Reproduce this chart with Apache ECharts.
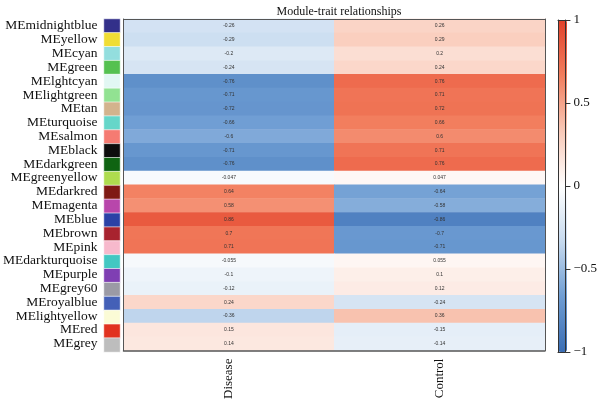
<!DOCTYPE html>
<html><head><meta charset="utf-8">
<script src="https://cdn.jsdelivr.net/npm/echarts@6/dist/echarts.min.js"></script>
<style>html,body{margin:0;padding:0;background:#fff}#c{width:600px;height:402px}</style>
</head><body><div id="c"></div>
<script>
const modules = ['MEmidnightblue','MEyellow','MEcyan','MEgreen','MElghtcyan','MElightgreen','MEtan','MEturquoise','MEsalmon','MEblack','MEdarkgreen','MEgreenyellow','MEdarkred','MEmagenta','MEblue','MEbrown','MEpink','MEdarkturquoise','MEpurple','MEgrey60','MEroyalblue','MElightyellow','MEred','MEgrey'];
const moduleColors = ['#33308a','#f0dd35','#93dede','#55c150','#e2f7f3','#92e292','#d3b38d','#66d6c9','#f57b72','#0d0d0d','#0f6412','#aedc4e','#7f1a14','#b846ab','#2b41a6','#a8232f','#f7b9cc','#43c7c2','#7f3fb3','#9b9aa5','#4460b7','#fbfbd6','#e1321f','#bdbdbd'];
const traits = ['Disease','Control'];
const disease = [-0.26,-0.29,-0.2,-0.24,-0.76,-0.71,-0.72,-0.66,-0.6,-0.71,-0.76,-0.047,0.64,0.58,0.86,0.7,0.71,-0.055,-0.1,-0.12,0.24,-0.36,0.15,0.14];
const control = [0.26,0.29,0.2,0.24,0.76,0.71,0.72,0.66,0.6,0.71,0.76,0.047,-0.64,-0.58,-0.86,-0.7,-0.71,0.055,0.1,0.12,-0.24,0.36,-0.15,-0.14];
const legendTicks = [-1,-0.5,0,0.5,1];

const data = [];
modules.forEach((m,i)=>{ data.push([0,i,disease[i]]); data.push([1,i,control[i]]); });
const swatch = modules.map((m,i)=>({value:[0,i,1], itemStyle:{color:moduleColors[i]}}));
const serif = 'Liberation Serif';
const frame = {onZero:false, lineStyle:{color:'#333', width:1}};
const chart = echarts.init(document.getElementById('c'));
chart.setOption({
  animation:false,
  title:{text:'Module-trait relationships', left:334, top:1, textAlign:'center',
    textStyle:{fontFamily:serif, fontSize:12, fontWeight:'normal', color:'#111'}},
  grid:[
    {left:123, right:55, top:19, bottom:50},
    {left:104, width:16, top:19, bottom:50},
    {left:558, width:9, top:20, height:332}
  ],
  xAxis:[
    {type:'category', data:traits, gridIndex:0, position:'bottom', z:10,
     axisLine:{lineStyle:{color:'#555', width:1.5}}, axisTick:{show:false},
     axisLabel:{rotate:90, fontFamily:serif, fontSize:13, color:'#111', margin:8}},
    {type:'category', data:traits, gridIndex:0, position:'top', z:10,
     axisLine:{lineStyle:{color:'#555'}}, axisTick:{show:false}, axisLabel:{show:false}},
    {type:'category', data:['c'], gridIndex:1, show:false},
    {type:'category', data:['c'], gridIndex:2, position:'top', z:10,
     axisLine:frame, axisTick:{show:false}, axisLabel:{show:false}},
    {type:'category', data:['c'], gridIndex:2, position:'bottom', z:10,
     axisLine:frame, axisTick:{show:false}, axisLabel:{show:false}}
  ],
  yAxis:[
    {type:'category', data:modules, gridIndex:0, inverse:true, z:10,
     axisLine:{lineStyle:{color:'#555'}}, axisTick:{show:false},
     axisLabel:{interval:0, fontFamily:serif, fontSize:13.5, color:'#111', margin:26}},
    {type:'category', data:modules, gridIndex:0, inverse:true, position:'right', z:10,
     axisLine:{lineStyle:{color:'#555'}}, axisTick:{show:false}, axisLabel:{show:false}},
    {type:'category', data:modules, gridIndex:1, inverse:true, show:false},
    {type:'value', gridIndex:2, min:legendTicks[0], max:legendTicks[legendTicks.length-1], interval:0.5, position:'right', z:10,
     axisLine:{show:true, onZero:false, lineStyle:{color:'#333'}}, axisTick:{show:true, inside:false, length:5, lineStyle:{color:'#333'}},
     splitLine:{show:false},
     axisLabel:{fontFamily:serif, fontSize:13, color:'#111', margin:8,
       formatter:v=>String(v).replace('-','\u2212')}},
    {type:'value', gridIndex:2, min:-1, max:1, position:'left', z:10,
     axisLine:{show:true, onZero:false, lineStyle:{color:'#333'}}, axisTick:{show:false}, axisLabel:{show:false}, splitLine:{show:false}}
  ],
  visualMap:{type:'continuous', min:-1, max:1, seriesIndex:0, calculable:false, padding:0,
    left:558, top:20, itemWidth:9, itemHeight:332, text:['',''], showLabel:false,
    inRange:{color:['#3a6db4','#6e9dd3','#c6daef','#ffffff','#f9c8b6','#f27c5c','#e2412a']}},
  series:[
    {type:'heatmap', xAxisIndex:0, yAxisIndex:0, data:data,
     label:{show:true, fontSize:5, color:'#333', formatter:p=>String(p.value[2])}},
    {type:'heatmap', xAxisIndex:2, yAxisIndex:2, data:swatch,
     itemStyle:{borderColor:'#fff', borderWidth:0.6}}
  ]
});
</script></body></html>
